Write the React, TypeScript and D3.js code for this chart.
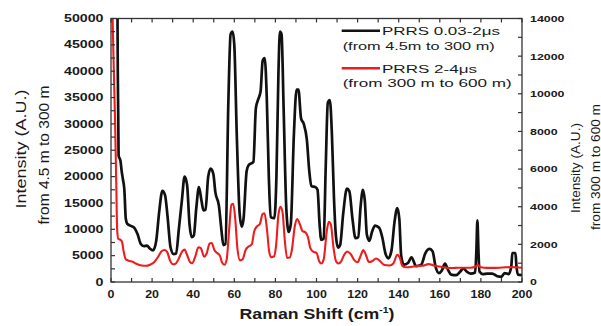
import React from 'react';
import * as d3 from 'd3';

// Raman shift (cm-1) vs intensity, PRRS 0.03-2us (left axis)
const blackSeries: [number, number][] = [
  [3.0, 62000], [3.3, 40000], [3.7, 24000], [4.6, 23000], [5.2, 21000], [5.8, 19500], [6.5, 17500],
  [7.2, 12000], [8, 11000], [10, 10600], [11.5, 10200], [13, 9000], [14.5, 7200], [16, 6800],
  [17.5, 6900], [19, 6300], [20.5, 6000], [22, 7800], [23.5, 13500], [25, 17300], [26.3, 16500],
  [27.5, 12500], [29, 6500], [30.5, 5300], [31.7, 5400], [33, 10000], [34.5, 15500], [35.8, 20000],
  [37, 18500], [38.2, 11000], [39.3, 8500], [40.3, 8800], [41.5, 14000], [42.8, 18000], [44, 15500],
  [45, 13600], [46, 13700], [47.3, 20000], [48.5, 21500], [49.8, 20500], [50.8, 17000], [52.5, 14500],
  [53.7, 10000], [54.7, 7000], [55.7, 7200], [57.1, 34000], [58.2, 47000], [59.2, 47500], [60, 45000],
  [61.2, 28000], [62.6, 13000], [63.6, 10500], [64.5, 12000], [66, 21000], [67, 22200], [69.3, 22800],
  [70.5, 33000], [71.5, 34500], [72.8, 36200], [73.8, 42000], [74.8, 42500], [75.8, 35000],
  [76.8, 20000], [77.7, 12300], [79.5, 12100], [80.5, 20000], [81.5, 40000], [82.2, 47500],
  [83, 47000], [84, 33000], [85.3, 14000], [86.5, 9500], [87.5, 11000], [89, 28000], [90.3, 36500],
  [91.2, 36500], [92.5, 31000], [93.8, 30000], [95.3, 27000], [96.5, 21000], [97.5, 18200],
  [99.5, 18000], [100.5, 17500], [101.5, 11000], [102.3, 8000], [103.5, 8200], [104.5, 22000],
  [105.5, 34000], [106.5, 34500], [107.5, 28000], [108.5, 16000], [109.5, 8500], [110.5, 6500],
  [111.5, 7000], [113, 13000], [114.8, 17700], [116, 17200], [117.5, 12000], [119, 8300],
  [120.3, 8500], [121.5, 14500], [122.6, 17500], [123.5, 15500], [124.5, 9000], [125.7, 7800],
  [127, 9500], [128.5, 10700], [130.5, 10300], [132, 8500], [133.5, 5500], [135, 4500], [136.5, 6000],
  [138, 11500], [139.3, 14000], [140.3, 12000], [141.2, 5000], [142.5, 3300], [144.5, 3600],
  [146.2, 4700], [148.5, 3000], [151, 3300], [153, 5500], [155, 6300], [156.5, 5800], [158, 2800],
  [159.5, 1700], [161, 2200], [162.5, 3500], [164, 2300], [165.5, 1400], [168, 1300], [170, 2000],
  [171.5, 2600], [173, 2000], [175, 1600], [177.2, 1800], [177.8, 6000], [178.3, 11700], [178.8, 6000],
  [179.3, 2000], [181, 1500], [183, 1600], [185.5, 1600], [188, 1100], [190, 1000], [191.5, 1700],
  [193.5, 1500], [194.8, 3000], [195.3, 5500], [196.8, 5500], [197.3, 3000], [198, 1400], [200, 1300],
];

// PRRS 2-4us (right axis)
const redSeries: [number, number][] = [
  [0.4, 16000], [1.2, 12000], [2.0, 8500], [2.6, 5000], [3.0, 2800], [3.5, 2300], [4.5, 2250],
  [5.3, 2150], [6.2, 1600], [7.2, 1200], [9, 1120], [10.5, 1080], [12, 980], [13.5, 920], [15, 880],
  [17, 860], [19, 920], [21, 1050], [23, 1350], [24.5, 1620], [26, 1700], [27.3, 1600], [28.7, 1150],
  [30.2, 940], [31.5, 980], [33, 1250], [34.8, 1650], [35.8, 1720], [37, 1450], [38.5, 1050],
  [39.5, 1000], [41, 1350], [42.5, 1850], [43.7, 1800], [45.3, 1350], [46.5, 1500], [48, 2050],
  [49, 2070], [50.3, 1700], [51.5, 1550], [53, 1400], [54, 1050], [55.2, 920], [56.3, 1200],
  [57.5, 2800], [58.6, 4100], [59.5, 4150], [60.5, 3300], [61.5, 1800], [62.8, 1150], [64, 1200],
  [65.5, 1700], [66.5, 1850], [68.5, 2000], [69.7, 2700], [71, 2950], [72.5, 3100], [73.7, 3600],
  [74.7, 3650], [75.8, 2900], [77, 1600], [78, 1320], [79.3, 1350], [80.3, 1900], [81.5, 3600],
  [82.5, 4000], [83.5, 3700], [84.5, 2300], [85.7, 1280], [87, 1300], [88, 1700], [89.5, 3000],
  [90.6, 3350], [91.8, 3100], [93.2, 2700], [94.5, 2650], [95.8, 2400], [97, 1800], [98.5, 1600],
  [100, 1550], [101.3, 1100], [102.3, 980], [103.5, 1200], [105, 2700], [106, 3200], [107, 3050],
  [108.3, 1800], [109.5, 1100], [110.7, 980], [112, 1100], [113.5, 1450], [115, 1620], [116.5, 1500],
  [118.5, 1150], [120, 1050], [121.5, 1400], [122.8, 1700], [124, 1450], [125.5, 1060], [127, 1100],
  [129, 1250], [131, 1100], [133, 900], [135.5, 880], [137.5, 1000], [139.3, 1450], [140.5, 1300],
  [141.8, 850], [143.5, 780], [146, 800], [149, 850], [151.5, 860], [154.5, 950], [157, 880],
  [160, 820], [163, 760], [166, 740], [169, 760], [172, 760], [175, 760], [177.5, 820], [178.5, 900],
  [180, 780], [183, 750], [186, 750], [189, 760], [192, 780], [195, 790], [197, 780], [200, 760],
];

const xTickLabels = [0, 20, 40, 60, 80, 100, 120, 140, 160, 180, 200];
const leftTickLabels = [0, 5000, 10000, 15000, 20000, 25000, 30000, 35000, 40000, 45000, 50000];
const rightTickLabels = [0, 2000, 4000, 6000, 8000, 10000, 12000, 14000];

const legendItems = [
  { color: '#111', title: 'PRRS 0.03-2\u03bcs', sub: '(from 4.5m to 300 m)', tw: 118, sw: 152 },
  { color: '#ee1c1c', title: 'PRRS 2-4\u03bcs', sub: '(from 300 m to 600 m)', tw: 95, sw: 169 },
];

const W = 601;
const H = 326;
const m = { left: 111, right: 522, top: 18.5, bottom: 282 };
const font = '"Liberation Sans", Arial, sans-serif';

export default function App() {
  const x = d3.scaleLinear().domain([0, 200]).range([m.left, m.right]);
  const yL = d3.scaleLinear().domain([0, 50000]).range([m.bottom, m.top]);
  const yR = d3.scaleLinear().domain([0, 14000]).range([m.bottom, m.top]);

  const lineL = d3.line<[number, number]>().x(d => x(d[0])).y(d => yL(d[1])).curve(d3.curveMonotoneX);
  const lineR = d3.line<[number, number]>().x(d => x(d[0])).y(d => yR(d[1])).curve(d3.curveMonotoneX);

  const xMinor = d3.range(0, 201, 10);
  const yLMinor = d3.range(0, 50001, 2500);
  const yRMinor = d3.range(0, 14001, 1000);
  const tk = 4;

  return (
    <div style={{ position: 'absolute', left: 0, top: 0 }}>
      <svg width={W} height={H} style={{ display: 'block', background: '#fff' }} fontFamily={font}>
        <defs>
          <clipPath id="plot">
            <rect x={m.left} y={m.top} width={m.right - m.left} height={m.bottom - m.top} />
          </clipPath>
        </defs>

        <g clipPath="url(#plot)">
          <path d={lineL(blackSeries) || ''} fill="none" stroke="#111" strokeWidth={2.7} strokeLinejoin="round" />
          <path d={lineR(redSeries) || ''} fill="none" stroke="#ee1c1c" strokeWidth={2.1} strokeLinejoin="round" />
        </g>

        {/* frame */}
        <rect x={m.left} y={m.top} width={m.right - m.left} height={m.bottom - m.top} fill="none" stroke="#333" strokeWidth={1.3} />

        {/* ticks */}
        <g stroke="#333" strokeWidth={1.2}>
          {xMinor.map(v => (
            <g key={'x' + v}>
              <line x1={x(v)} x2={x(v)} y1={m.bottom} y2={m.bottom - tk} />
              <line x1={x(v)} x2={x(v)} y1={m.top} y2={m.top + tk} />
            </g>
          ))}
          {yLMinor.map(v => (
            <line key={'l' + v} x1={m.left} x2={m.left + tk} y1={yL(v)} y2={yL(v)} />
          ))}
          {yRMinor.map(v => (
            <line key={'r' + v} x1={m.right} x2={m.right - tk} y1={yR(v)} y2={yR(v)} />
          ))}
        </g>

        {/* tick labels */}
        <g fontWeight="bold" fill="#1a1a1a">
          {xTickLabels.map(v => {
            const s = String(v);
            return (
              <text key={'xl' + v} x={x(v)} y={297.5} fontSize={10.5} textAnchor="middle"
                textLength={s.length * 6.9} lengthAdjust="spacingAndGlyphs">{s}</text>
            );
          })}
          {leftTickLabels.map(v => {
            const s = String(v);
            const w = s.length * 7.9;
            return (
              <text key={'ll' + v} x={103.5 - w} y={yL(v) + 3.6} fontSize={10}
                textLength={w} lengthAdjust="spacingAndGlyphs">{s}</text>
            );
          })}
          {rightTickLabels.map(v => {
            const s = String(v);
            return (
              <text key={'rl' + v} x={530} y={yR(v) + 3.4} fontSize={9.5}
                textLength={s.length * 6.9} lengthAdjust="spacingAndGlyphs">{s}</text>
            );
          })}
        </g>

        {/* axis titles */}
        <text x={317} y={319} fontSize={14.5} fontWeight="bold" textAnchor="middle" fill="#1a1a1a"
          textLength={155} lengthAdjust="spacingAndGlyphs">
          Raman Shift (cm<tspan fontSize={8.5} dy={-6}>-1</tspan><tspan dy={6}>)</tspan>
        </text>

        <g fill="#1a1a1a" fontSize={15}>
          <text transform="translate(26,149) rotate(-90)" textAnchor="middle"
            textLength={119} lengthAdjust="spacingAndGlyphs">Intensity (A.U.)</text>
          <text transform="translate(48.5,155) rotate(-90)" textAnchor="middle"
            textLength={139} lengthAdjust="spacingAndGlyphs">from 4.5 m to 300 m</text>
        </g>
        <g fill="#1a1a1a" fontSize={12.5}>
          <text transform="translate(580,168) rotate(-90)" textAnchor="middle"
            textLength={90} lengthAdjust="spacingAndGlyphs">Intensity (A.U.)</text>
          <text transform="translate(599.5,167) rotate(-90)" textAnchor="middle"
            textLength={126} lengthAdjust="spacingAndGlyphs">from 300 m to 600 m</text>
        </g>

        {/* legend */}
        {legendItems.map((it, i) => {
          const y0 = 30.7 + i * 37.6;
          return (
            <g key={it.title}>
              <line x1={341.7} x2={380} y1={y0} y2={y0} stroke={it.color} strokeWidth={2.5} />
              <text x={382} y={y0 + 4.3} fontSize={11.5} fill="#1a1a1a"
                textLength={it.tw} lengthAdjust="spacingAndGlyphs">{it.title}</text>
              <text x={342.7} y={y0 + 19} fontSize={11.5} fill="#1a1a1a"
                textLength={it.sw} lengthAdjust="spacingAndGlyphs">{it.sub}</text>
            </g>
          );
        })}
      </svg>
    </div>
  );
}
